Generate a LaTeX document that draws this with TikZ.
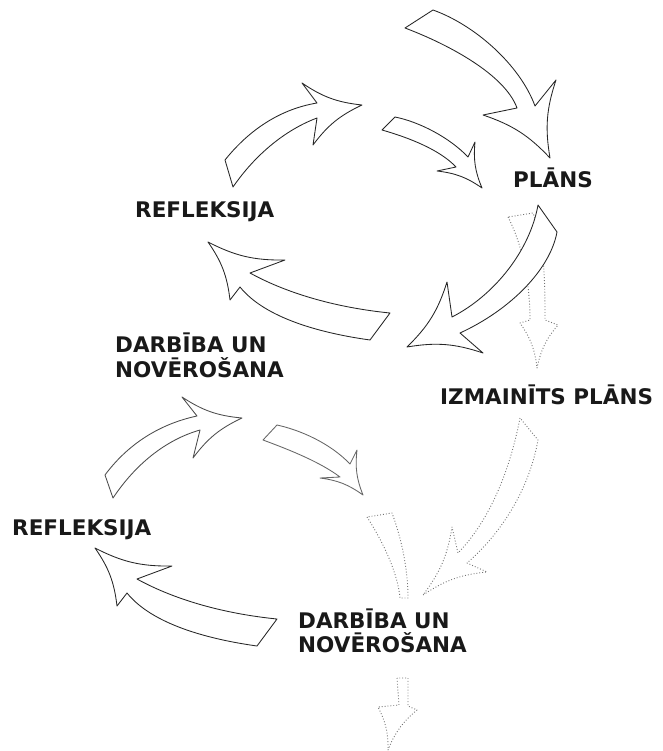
\documentclass[tikz,border=0pt]{standalone}
\usepackage{fontspec}
\setmainfont{DejaVu Sans}
\begin{document}
\begin{tikzpicture}[x=1pt,y=-1pt,
  solidarrow/.style={draw=black!85, line width=0.85pt, fill=white, line join=round},
  dotarrow/.style={draw=black!55, dotted, line width=0.9pt, fill=white, line join=round},
  cl/.style={bend left=14},
  cr/.style={bend right=14},
  label/.style={inner sep=0pt, anchor=base west, font=\fontsize{21.5}{25}\selectfont\bfseries, text=black!90}]
\useasboundingbox (0,0) rectangle (662,751);

% upper cycle
\draw[solidarrow] (405,28) .. controls (450,45) and (505,75) .. (517,108) -- (483,115) to[cl] (550,158) to[cl] (556,80) -- (535,106) .. controls (520,65) and (475,25) .. (433,10) -- cycle;
\draw[solidarrow] (382,130) .. controls (410,138) and (440,150) .. (456,167) -- (437,171) to[cl] (482,188) to[cl] (475,142) -- (468,157) .. controls (450,138) and (420,122) .. (395,117) -- cycle;
\draw[solidarrow] (233,187) .. controls (255,155) and (285,130) .. (317,118) -- (313,145) to[cl] (362,105) to[cl] (302,83) -- (317,103) .. controls (275,110) and (245,135) .. (225,160) -- cycle;
\draw[solidarrow] (208,242) to[cr] (285,260) -- (250,273) .. controls (290,295) and (340,308) .. (390,313) -- (370,340) .. controls (320,333) and (265,318) .. (240,287) -- (230,300) to[cr] cycle;

% plan to changed plan, and plan to action
\draw[dotarrow] (508,217) .. controls (525,250) and (530,290) .. (530,320) -- (520,323) to[cl] (537,368) to[cl] (558,325) -- (545,320) .. controls (545,285) and (545,245) .. (533,213) -- cycle;
\draw[solidarrow] (538,205) .. controls (530,250) and (495,295) .. (452,317) -- (447,282) to[cl] (407,347) to[cl] (483,353) -- (460,333) .. controls (510,310) and (550,270) .. (557,232) -- cycle;

% lower cycle
\draw[solidarrow, draw=black!70] (113,498) .. controls (135,465) and (165,440) .. (200,430) -- (193,458) to[cl] (242,418) to[cl] (182,397) -- (197,416) .. controls (155,425) and (125,448) .. (105,475) -- cycle;
\draw[solidarrow, draw=black!60] (263,440) .. controls (290,450) and (320,462) .. (340,477) -- (320,478) to[cl] (363,495) to[cl] (357,450) -- (350,464) .. controls (330,443) and (300,430) .. (277,425) -- cycle;
\draw[dotarrow] (367,517) .. controls (385,545) and (398,575) .. (400,598) -- (408,598) .. controls (408,570) and (402,540) .. (392,513) -- cycle;
\begin{scope}[shift={(-113,306)}]
\draw[solidarrow] (208,242) to[cr] (285,260) -- (250,273) .. controls (290,295) and (340,308) .. (390,313) -- (370,340) .. controls (320,333) and (265,318) .. (240,287) -- (230,300) to[cr] cycle;
\end{scope}
\draw[dotarrow] (520,418) .. controls (510,470) and (490,520) .. (458,553) -- (452,527) to[cl] (423,595) to[cl] (487,572) -- (467,563) .. controls (505,530) and (530,485) .. (538,440) -- cycle;
\draw[dotarrow] (397,678) -- (399,705) -- (378,707) to[cl] (388,750) to[cl] (417,710) -- (408,706) -- (408,678) -- cycle;

% labels
\node[label] (plans) at (513,188) {PLĀNS};
\node[label] (refl1) at (135,218) {REFLEKSIJA};
\node[label] (darb1) at (115,352) {DARBĪBA UN};
\node[label] (nov1) at (115,377) {NOVĒROŠANA};
\node[label] (izm) at (440,404) {IZMAINĪTS PLĀNS};
\node[label] (refl2) at (12,535) {REFLEKSIJA};
\node[label] (darb2) at (298,628) {DARBĪBA UN};
\node[label] (nov2) at (298,652) {NOVĒROŠANA};
\end{tikzpicture}
\end{document}
